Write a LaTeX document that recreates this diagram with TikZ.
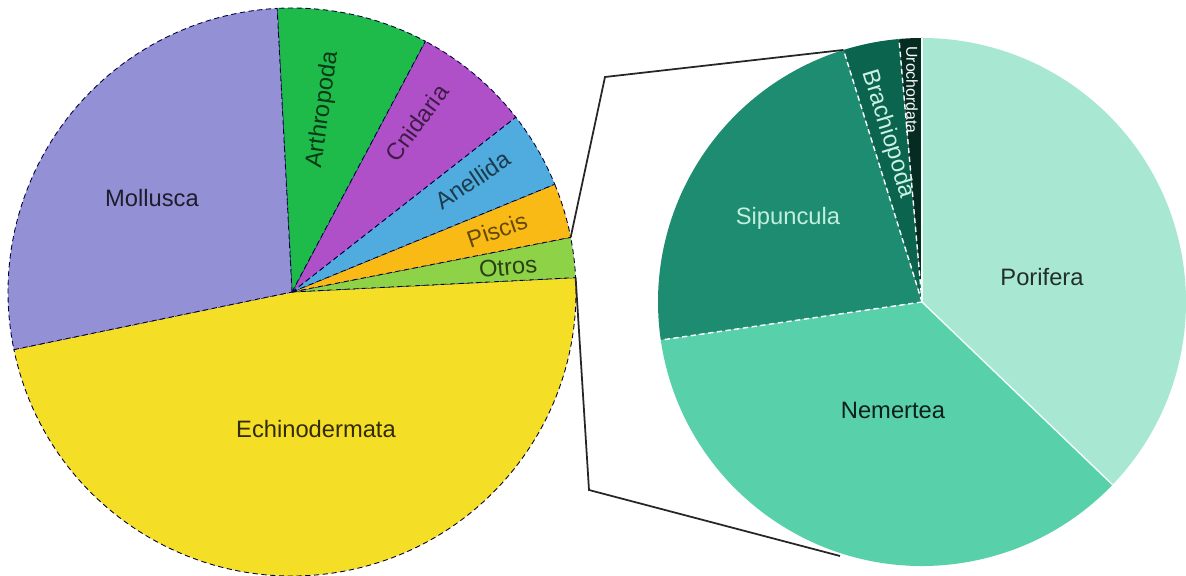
\documentclass[tikz,border=0pt]{standalone}
\usepackage{fontspec}
\setmainfont{Liberation Sans}
\usepackage{tikz}

\definecolor{cMollusca}{RGB}{148,144,214}
\definecolor{cArthropoda}{RGB}{30,186,74}
\definecolor{cCnidaria}{RGB}{176,80,200}
\definecolor{cAnellida}{RGB}{80,172,222}
\definecolor{cPiscis}{RGB}{250,186,22}
\definecolor{cOtros}{RGB}{142,210,72}
\definecolor{cEchino}{RGB}{245,222,38}
\definecolor{cPorifera}{RGB}{168,232,210}
\definecolor{cNemertea}{RGB}{88,208,170}
\definecolor{cSipuncula}{RGB}{30,140,112}
\definecolor{cBrachio}{RGB}{10,100,78}
\definecolor{cUrochord}{RGB}{6,44,34}

\begin{document}
\begin{tikzpicture}[
  lwedge/.style={draw=black!60!blue!60!black, line width=0.5pt, densely dashed},
  rline/.style={draw=white, line width=0.8pt, densely dashed},
  phylum/.style={font=\fontsize{13.5}{16}\selectfont, inner sep=0pt},
  zoomline/.style={draw=black!85, line width=1pt}
]
\useasboundingbox (0,0) rectangle (23.72,11.52);

\coordinate (L) at (5.84,5.68);
\coordinate (R) at (18.44,5.48);

\filldraw[lwedge, fill=cEchino] (L) -- ++(191.7:5.68) arc[start angle=191.7, end angle=362.9, radius=5.68] -- cycle;
\filldraw[lwedge, fill=cOtros] (L) -- ++(2.9:5.68) arc[start angle=2.9, end angle=11.1, radius=5.68] -- cycle;
\filldraw[lwedge, fill=cPiscis] (L) -- ++(11.1:5.68) arc[start angle=11.1, end angle=22.3, radius=5.68] -- cycle;
\filldraw[lwedge, fill=cAnellida] (L) -- ++(22.3:5.68) arc[start angle=22.3, end angle=38, radius=5.68] -- cycle;
\filldraw[lwedge, fill=cCnidaria] (L) -- ++(38:5.68) arc[start angle=38, end angle=62, radius=5.68] -- cycle;
\filldraw[lwedge, fill=cArthropoda] (L) -- ++(62:5.68) arc[start angle=62, end angle=93, radius=5.68] -- cycle;
\filldraw[lwedge, fill=cMollusca] (L) -- ++(93:5.68) arc[start angle=93, end angle=191.7, radius=5.68] -- cycle;

\fill[cPorifera] (R) -- ++(-43.8:5.28) arc[start angle=-43.8, end angle=90, radius=5.28] -- cycle;
\fill[cUrochord] (R) -- ++(90:5.28) arc[start angle=90, end angle=95, radius=5.28] -- cycle;
\fill[cBrachio] (R) -- ++(95:5.28) arc[start angle=95, end angle=107.3, radius=5.28] -- cycle;
\fill[cSipuncula] (R) -- ++(107.3:5.28) arc[start angle=107.3, end angle=188.3, radius=5.28] -- cycle;
\fill[cNemertea] (R) -- ++(188.3:5.28) arc[start angle=188.3, end angle=316.2, radius=5.28] -- cycle;
\draw[rline] (R) -- ++(95:5.28);
\draw[rline] (R) -- ++(107.3:5.28);
\draw[rline] (R) -- ++(188.3:5.28);
\draw[draw=white!85!cPorifera, line width=0.8pt] (R) -- ++(-43.8:5.28);
\draw[draw=white!85!cPorifera, line width=0.8pt] (R) -- ++(90:5.28);

\node[phylum, text=black!80!cMollusca] (mollusca) at (3.04,7.56) {Mollusca};
\node[phylum, text=black!80!cEchino] (echino) at (6.32,2.94) {Echinodermata};
\node[phylum, text=black!70!cArthropoda, rotate=82] (arthropoda) at (6.46,9.32) {Arthropoda};
\node[phylum, text=black!65!cCnidaria, rotate=54] (cnidaria) at (8.34,9.06) {Cnidaria};
\node[phylum, text=black!65!cAnellida, rotate=34] (anellida) at (9.46,7.92) {Anellida};
\node[phylum, text=black!60!cPiscis, rotate=19] (piscis) at (9.94,6.92) {Piscis};
\node[phylum, text=black!70!cOtros, rotate=5] (otros) at (10.16,6.18) {Otros};

\node[phylum, text=black!80!cPorifera] (porifera) at (20.84,5.98) {Porifera};
\node[phylum, text=black!85!cNemertea] (nemertea) at (17.86,3.32) {Nemertea};
\node[phylum, text=cPorifera!70!white] (sipuncula) at (15.76,7.16) {Sipuncula};
\node[phylum, text=cPorifera!60!white, rotate=-73] (brachio) at (17.76,8.84) {Brachiopoda};
\node[phylum, font=\fontsize{9}{10}\selectfont, text=white, rotate=-90] (urochord) at (18.24,9.72) {Urochordata};

\coordinate (up0) at ([shift={(11.1:5.68)}]L);
\coordinate (up1) at (12.10,9.98);
\coordinate (up2) at ([shift={(107.3:5.28)}]R);
\coordinate (lo0) at ([shift={(2.9:5.68)}]L);
\coordinate (lo1) at (11.78,1.72);
\coordinate (lo2) at (16.80,0.40);
\draw[zoomline] (up0) -- (up1) -- (up2);
\draw[zoomline] (lo0) -- (lo1) -- (lo2);
\end{tikzpicture}
\end{document}
